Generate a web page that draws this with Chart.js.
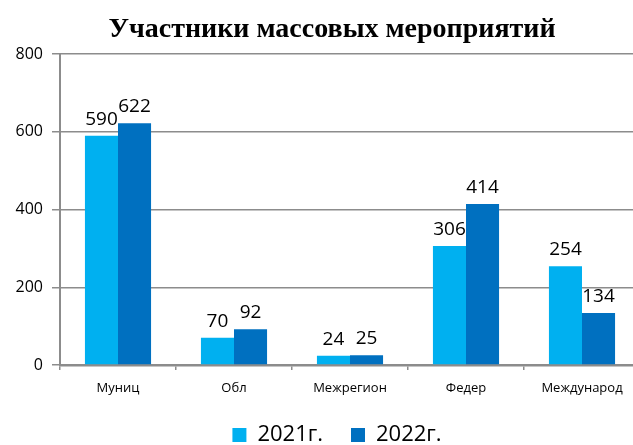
<!DOCTYPE html>
<html>
<head>
<meta charset="utf-8">
<script src="https://cdn.jsdelivr.net/npm/chart.js@4/dist/chart.umd.min.js"></script>
<style>
  html, body { margin: 0; padding: 0; background: #fff; overflow: hidden; width: 633px; height: 445px; }
  canvas { display: block; }
</style>
</head>
<body>
<canvas id="chart" width="641" height="456"></canvas>
<script>
const categories = ['Муниц', 'Обл', 'Межрегион', 'Федер', 'Международ'];
const values2021 = [590, 70, 24, 306, 254];
const values2022 = [622, 92, 25, 414, 134];
const seriesNames = ['2021г.', '2022г.'];
const yTicks = [0, 200, 400, 600, 800];
const chartTitle = 'Участники массовых мероприятий';

const FONT = "'Open Sans', sans-serif";

// подписи значений над столбцами + заголовок
const valueLabels = {
  id: 'valueLabels',
  afterLayout(chart) {
    // легенда в оригинале чуть правее центра
    chart.legend.left += 17;
    chart.legend.right += 17;
  },
  afterDatasetsDraw(chart) {
    const ctx = chart.ctx;
    ctx.save();
    ctx.font = '19px ' + FONT;
    ctx.fillStyle = '#000';
    ctx.textAlign = 'center';
    ctx.textBaseline = 'alphabetic';
    chart.data.datasets.forEach((ds, i) => {
      chart.getDatasetMeta(i).data.forEach((bar, j) => {
        ctx.fillText(String(ds.data[j]), bar.x, bar.y - 11);
      });
    });
    ctx.font = "bold 28px 'Liberation Serif', serif";
    ctx.textBaseline = 'middle';
    ctx.fillText(chartTitle, 332, 30);
    ctx.restore();
  }
};

const ctx = document.getElementById('chart').getContext('2d');
new Chart(ctx, {
  type: 'bar',
  data: {
    labels: categories,
    datasets: [
      { label: seriesNames[0], data: values2021, backgroundColor: '#00B0F0' },
      { label: seriesNames[1], data: values2022, backgroundColor: '#0070C0' }
    ]
  },
  options: {
    responsive: false,
    animation: false,
    categoryPercentage: 0.57,
    barPercentage: 1,
    layout: { padding: { left: 0, right: 1, top: 54, bottom: 0 } },
    plugins: {
      title: { display: false },
      legend: {
        position: 'bottom',
        labels: {
          color: '#000',
          font: { family: FONT, size: 22 },
          boxWidth: 14,
          boxHeight: 14,
          padding: 28
        }
      },
      tooltip: { enabled: false }
    },
    scales: {
      x: {
        afterFit(scale) { scale.height = 31; },
        grid: {
          display: true,
          drawOnChartArea: false,
          drawTicks: true,
          tickLength: 5,
          color: '#8c8c8c',
          lineWidth: 1.5
        },
        border: { color: '#8c8c8c', width: 2.5 },
        ticks: { color: '#000', font: { family: FONT, size: 13 }, padding: 10 }
      },
      y: {
        min: 0,
        max: 800,
        afterBuildTicks(scale) {
          scale.ticks = yTicks.map(v => ({ value: v }));
        },
        afterFit(scale) { scale.width = 60; },
        grid: { color: '#8c8c8c', lineWidth: 1.5, tickLength: 8 },
        border: { color: '#8c8c8c', width: 2 },
        ticks: { color: '#000', font: { family: FONT, size: 16 }, padding: 9 }
      }
    }
  },
  plugins: [valueLabels]
});
</script>
</body>
</html>
